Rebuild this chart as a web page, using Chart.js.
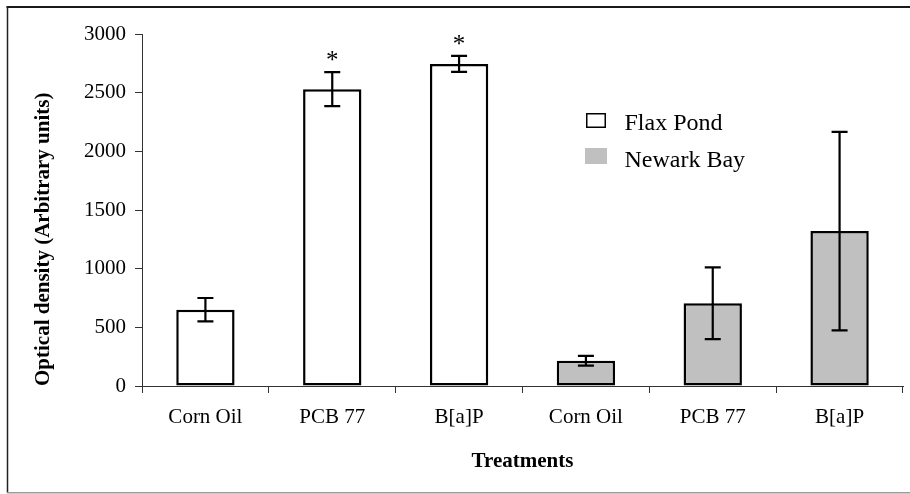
<!DOCTYPE html>
<html>
<head>
<meta charset="utf-8">
<script src="https://cdn.jsdelivr.net/npm/chart.js@4.4.1/dist/chart.umd.min.js"></script>
<style>
  html, body { margin: 0; padding: 0; background: #fff; }
  #wrap { width: 910px; height: 494px; position: relative; }
</style>
</head>
<body>
<div id="wrap"><canvas id="c" width="910" height="494"></canvas></div>
<script>
// Treatment groups along the x axis (first three: Flax Pond, last three: Newark Bay)
const categories = ['Corn Oil', 'PCB 77', 'B[a]P', 'Corn Oil', 'PCB 77', 'B[a]P'];
const seriesNames = ['Flax Pond', 'Newark Bay'];

// Mean optical density and error (±) per treatment
const flaxMeans = [650, 2530, 2745];
const flaxErrors = [100, 145, 68];
const flaxSignificant = [false, true, true];

const newarkMeans = [215, 705, 1320];
const newarkErrors = [41, 306, 846];

// Y-axis tick values
const yTicks = [0, 500, 1000, 1500, 2000, 2500, 3000];

const SERIF = "'Liberation Serif', 'Times New Roman', Times, serif";
const GREY = '#c0c0c0';

const pad = (arr, before, after) =>
  [...Array(before).fill(null), ...arr, ...Array(after).fill(null)];

// Outer frame around the figure
const framePlugin = {
  id: 'frame',
  beforeDraw(chart) {
    const ctx = chart.ctx;
    ctx.save();
    ctx.fillStyle = '#fff';
    ctx.fillRect(0, 0, chart.width, chart.height);
    ctx.lineWidth = 2;
    ctx.strokeStyle = '#1a1a1a';
    ctx.beginPath();
    ctx.moveTo(6.5, 7);
    ctx.lineTo(chart.width, 7);
    ctx.stroke();
    ctx.lineWidth = 1.5;
    ctx.strokeStyle = '#222';
    ctx.beginPath();
    ctx.moveTo(7.5, 6);
    ctx.lineTo(7.5, 493);
    ctx.stroke();
    ctx.lineWidth = 1.5;
    ctx.strokeStyle = '#9a9a9a';
    ctx.beginPath();
    ctx.moveTo(7, 492.8);
    ctx.lineTo(chart.width, 492.8);
    ctx.stroke();
    ctx.restore();
  }
};

// Error bars and significance markers drawn from the dataset values
const errorBarPlugin = {
  id: 'errorBars',
  afterDatasetsDraw(chart) {
    const ctx = chart.ctx;
    const y = chart.scales.y;
    ctx.save();
    chart.data.datasets.forEach((ds, di) => {
      const meta = chart.getDatasetMeta(di);
      meta.data.forEach((bar, i) => {
        const v = ds.data[i];
        const e = ds.errors[i];
        if (v === null || e === null) return;
        const x = bar.x;
        const yHi = y.getPixelForValue(v + e);
        const yLo = y.getPixelForValue(v - e);
        ctx.strokeStyle = '#000';
        ctx.lineWidth = 2.2;
        ctx.beginPath();
        ctx.moveTo(x, yHi);
        ctx.lineTo(x, yLo);
        ctx.moveTo(x - 8, yHi);
        ctx.lineTo(x + 8, yHi);
        ctx.moveTo(x - 8, yLo);
        ctx.lineTo(x + 8, yLo);
        ctx.stroke();
        if (ds.significant && ds.significant[i]) {
          ctx.fillStyle = '#000';
          ctx.font = '25px ' + SERIF;
          ctx.textAlign = 'center';
          ctx.textBaseline = 'alphabetic';
          ctx.fillText('*', x, yHi - 4);
        }
      });
    });
    ctx.restore();
  }
};

// Legend placed inside the plot area
const insetLegendPlugin = {
  id: 'insetLegend',
  afterDraw(chart) {
    const ctx = chart.ctx;
    ctx.save();
    ctx.font = '24px ' + SERIF;
    ctx.textAlign = 'left';
    ctx.textBaseline = 'alphabetic';
    const rows = [
      { box: [586, 113, 20, 15], base: 130 },
      { box: [585, 148, 22, 16], base: 166.5 }
    ];
    chart.data.datasets.forEach((ds, i) => {
      const r = rows[i];
      const [bx, by, bw, bh] = r.box;
      ctx.fillStyle = ds.backgroundColor;
      ctx.fillRect(bx, by, bw, bh);
      if (ds.legendStroke) {
        ctx.strokeStyle = '#000';
        ctx.lineWidth = 1.5;
        ctx.strokeRect(bx + 0.75, by + 0.75, bw - 1.5, bh - 1.5);
      }
      ctx.fillStyle = '#000';
      ctx.fillText(ds.label, 624.5, r.base);
    });
    ctx.restore();
  }
};

new Chart(document.getElementById('c'), {
  type: 'bar',
  data: {
    labels: categories,
    datasets: [
      {
        label: seriesNames[0],
        data: pad(flaxMeans, 0, 3),
        errors: pad(flaxErrors, 0, 3),
        significant: pad(flaxSignificant, 0, 3),
        backgroundColor: '#ffffff',
        borderColor: '#000',
        borderWidth: 2.5,
        borderSkipped: false,
        legendStroke: true
      },
      {
        label: seriesNames[1],
        data: pad(newarkMeans, 3, 0),
        errors: pad(newarkErrors, 3, 0),
        backgroundColor: GREY,
        borderColor: '#000',
        borderWidth: 2.5,
        borderSkipped: false,
        legendStroke: false
      }
    ]
  },
  options: {
    responsive: false,
    animation: false,
    devicePixelRatio: 1,
    grouped: false,
    categoryPercentage: 1,
    barPercentage: 0.46,
    layout: { padding: { top: 34, right: 7, bottom: 0, left: 0 } },
    plugins: {
      legend: { display: false },
      tooltip: { enabled: false }
    },
    scales: {
      x: {
        grid: {
          offset: true,
          drawOnChartArea: false,
          drawTicks: true,
          tickLength: 7,
          color: '#333',
          lineWidth: 1
        },
        border: { display: true, color: '#333', width: 1 },
        ticks: {
          color: '#000',
          font: { family: SERIF, size: 21 },
          padding: 12,
          maxRotation: 0,
          autoSkip: false
        },
        title: {
          display: true,
          text: 'Treatments',
          color: '#000',
          font: { family: SERIF, size: 21, weight: 'bold' },
          padding: { top: 0, bottom: 20 }
        },
        afterFit(scale) { scale.height = 108; }
      },
      y: {
        min: 0,
        max: 3000,
        afterBuildTicks(scale) { scale.ticks = yTicks.map(v => ({ value: v })); },
        grid: {
          drawOnChartArea: false,
          drawTicks: true,
          tickLength: 7,
          color: '#333',
          lineWidth: 1
        },
        border: { display: true, color: '#333', width: 1 },
        ticks: {
          color: '#000',
          font: { family: SERIF, size: 21 },
          padding: 9,
          callback: (v) => String(v)
        },
        title: {
          display: true,
          text: 'Optical density (Arbitrary units)',
          align: 'start',
          color: '#000',
          font: { family: SERIF, size: 21, weight: 'bold' },
          padding: { top: 31, bottom: 0 }
        },
        afterFit(scale) { scale.width = 142; }
      }
    }
  },
  plugins: [framePlugin, errorBarPlugin, insetLegendPlugin]
});
</script>
</body>
</html>
